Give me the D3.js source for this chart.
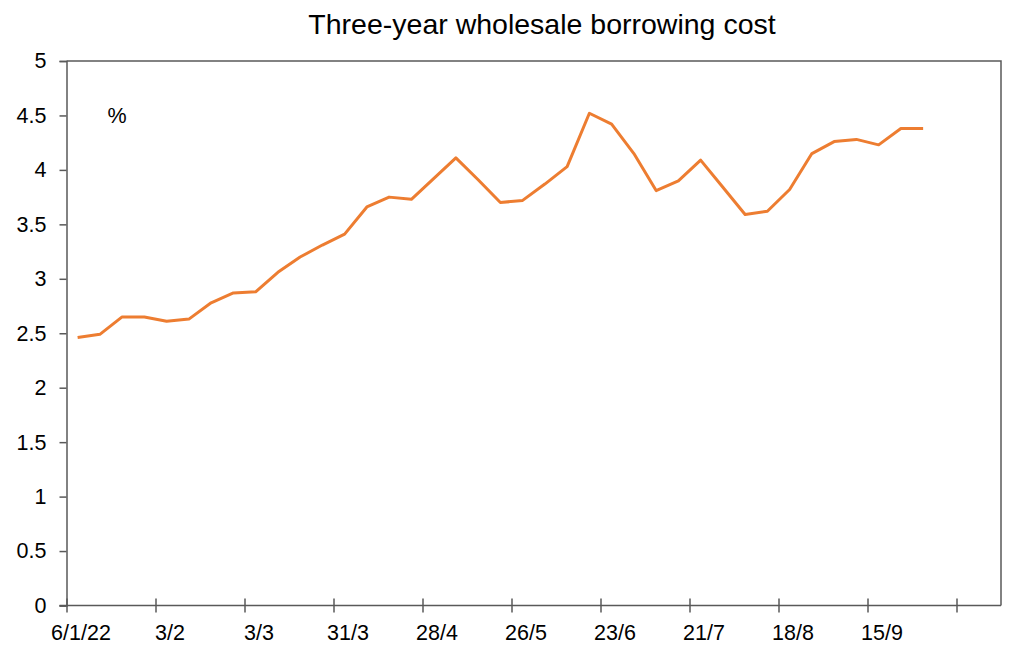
<!DOCTYPE html>
<html>
<head>
<meta charset="utf-8">
<script src="https://cdn.jsdelivr.net/npm/d3@7"></script>
<style>
  body { margin: 0; background: #fff; }
  svg { font-family: "Liberation Sans", Arial, sans-serif; }
</style>
</head>
<body>
<svg id="chart" width="1024" height="668"></svg>
<script>
// weekly observations, starting 6/1/22
const values = [2.46, 2.49, 2.65, 2.65, 2.61, 2.63, 2.78, 2.87, 2.88, 3.06,
    3.20, 3.31, 3.41, 3.66, 3.75, 3.73, 3.92, 4.11, 3.91, 3.70,
    3.72, 3.87, 4.03, 4.52, 4.42, 4.15, 3.81, 3.90, 4.09, 3.84,
    3.59, 3.62, 3.82, 4.15, 4.26, 4.28, 4.23, 4.38, 4.38];
const tickLabels = ["6/1/22", "3/2", "3/3", "31/3", "28/4", "26/5", "23/6", "21/7", "18/8", "15/9", ""];
const yTicks = [0, 0.5, 1, 1.5, 2, 2.5, 3, 3.5, 4, 4.5, 5];
const weeksShown = 42;

(function () {
    const svg = d3.select("svg#chart");
    const mLeft = 66.5, mRight = 1001, mTop = 61, mBottom = 605.5;
    const axisColor = "#595959";

    const x = d3.scaleLinear().domain([0, weeksShown]).range([mLeft, mRight]);
    const y = d3.scaleLinear().domain([0, 5]).range([mBottom, mTop]);

    svg.append("text")
        .attr("x", 542)
        .attr("y", 34)
        .attr("text-anchor", "middle")
        .attr("font-size", 28.5)
        .attr("fill", "#000")
        .text("Three-year wholesale borrowing cost");

    // frame (top and right)
    svg.append("path")
        .attr("d", `M${mLeft},${mTop}H${mRight}V${mBottom}`)
        .attr("fill", "none")
        .attr("stroke", axisColor)
        .attr("stroke-width", 1.5);

    const yAxis = svg.append("g")
        .attr("transform", `translate(${mLeft},0)`)
        .call(d3.axisLeft(y).tickValues(yTicks).tickSize(7).tickPadding(13).tickFormat(d => String(d)));
    yAxis.select(".domain").attr("stroke", axisColor).attr("stroke-width", 1.5);
    yAxis.selectAll(".tick line").attr("stroke", axisColor).attr("stroke-width", 1.5);
    yAxis.selectAll(".tick text").attr("font-size", 21.5).attr("fill", "#000")
        .attr("font-family", "Liberation Sans, Arial, sans-serif");

    const xTickIdx = tickLabels.map((d, i) => i * 4);
    const xAxis = svg.append("g")
        .attr("transform", `translate(0,${mBottom})`)
        .call(d3.axisBottom(x).tickValues(xTickIdx).tickSize(7).tickSizeOuter(0)
            .tickFormat((d, i) => tickLabels[i]));
    xAxis.select(".domain").attr("stroke", axisColor).attr("stroke-width", 1.5)
        .attr("d", `M${mLeft - 7},0H${mRight}`);
    xAxis.selectAll(".tick line").attr("stroke", axisColor).attr("stroke-width", 1.5)
        .attr("y1", -7).attr("y2", 7);
    xAxis.selectAll(".tick text")
        .attr("font-size", 21.5).attr("fill", "#000")
        .attr("font-family", "Liberation Sans, Arial, sans-serif")
        .attr("x", 14).attr("y", 34).attr("dy", 0);

    svg.append("text")
        .attr("x", 117)
        .attr("y", 123)
        .attr("text-anchor", "middle")
        .attr("font-size", 21.5)
        .attr("fill", "#000")
        .text("%");

    const line = d3.line()
        .x((d, i) => x(i + 0.5))
        .y(d => y(d));

    svg.append("path")
        .datum(values)
        .attr("d", line)
        .attr("fill", "none")
        .attr("stroke", "#ED7D31")
        .attr("stroke-width", 3)
        .attr("stroke-linejoin", "round");
})();
</script>
</body>
</html>
